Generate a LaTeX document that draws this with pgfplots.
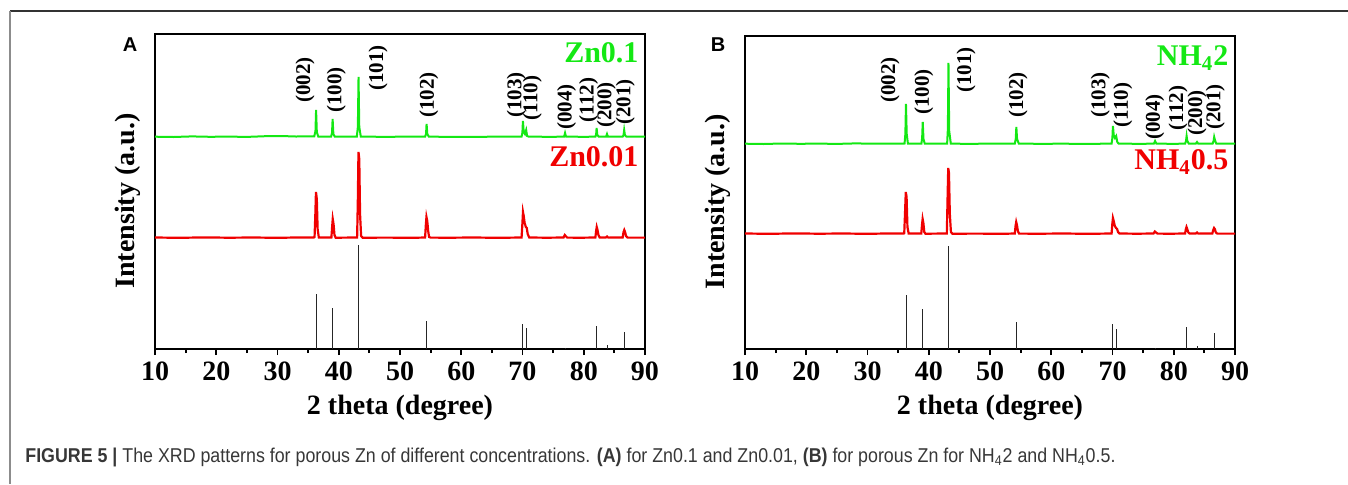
\documentclass[border=0pt]{standalone}
\usepackage{pgfplots}
\pgfplotsset{compat=1.18}
\usepackage{fontspec}
\setmainfont{Liberation Serif}
\newfontfamily\sansf{Liberation Sans}
\definecolor{xgreen}{RGB}{20,232,20}
\definecolor{xred}{RGB}{240,0,0}
\definecolor{capgray}{RGB}{55,55,55}
\pgfplotsset{xrdaxis/.style={
  scale only axis, width=245pt, anchor=south west,
  xmin=10, xmax=90, ymin=0,
  xtick={10,20,...,90}, minor x tick num=1, ytick=\empty,
  xtick pos=bottom, tick align=outside,
  major tick length=3pt, minor tick length=2pt,
  every tick/.style={black, line width=0.9pt},
  axis line style={line width=1.2pt},
  /pgf/number format/assume math mode=true,
  ticklabel style={font=\fontsize{14}{16}\selectfont\bfseries},
  xlabel={2 theta (degree)},
  ylabel={Intensity (a.u.)},
  label style={font=\fontsize{14}{16}\selectfont\bfseries},
  ylabel style={at={(axis description cs:-0.015,0.47)}, anchor=south},
  clip=false,
}}
\begin{document}
\begin{tikzpicture}[x=1pt,y=1pt]
\path[use as bounding box] (0,0) rectangle (674,242);
\draw[line width=0.7pt, black!80] (5,236.5) -- (674,236.5);
\draw[line width=0.7pt, black!45] (5,236.5) -- (5,0);
\node[font=\sansf\bfseries\fontsize{10}{12}\selectfont] at (65,219.5) {A};
\node[font=\sansf\bfseries\fontsize{10}{12}\selectfont] at (359,219.5) {B};
\node[anchor=west, inner sep=0, text=capgray, font=\sansf\fontsize{10}{11}\selectfont] at (12.5,13.5)
 {\resizebox{545pt}{\height}{\textbf{FIGURE 5 |} The XRD patterns for porous Zn of different concentrations. \textbf{(A)} for Zn0.1 and Zn0.01, \textbf{(B)} for porous Zn for NH\textsubscript{4}2 and NH\textsubscript{4}0.5.}};

\begin{axis}[xrdaxis, at={(77.5pt,67.5pt)}, height=157.5pt, ymax=315]
\addplot[xgreen, line width=1pt] coordinates {
(10,212.3)(13,212.0)(16,212.6)(19,212.2)(22,212.4)(25,212.1)(28,212.8)(31,212.9)(33,212.5)(35.9,212.6)
(36.0,212.6)(36.2,218)(36.3,239)(36.42,217)(36.65,212.5)
(38.75,212.4)(38.9,216)(39.0,230)(39.12,215)(39.35,212.3)
(42.95,212.3)(43.12,222)(43.23,272)(43.35,222)(43.6,212.4)
(47,212.2)(51,212.3)
(54.1,212.3)(54.25,215)(54.34,225)(54.46,215)(54.7,212.4)
(58,212.1)(62,212.2)(66,212.3)
(69.85,212.4)(69.98,216)(70.07,228)(70.2,217)(70.4,215)(70.6,219)(70.75,213)(71.0,212.4)
(74,212.2)
(76.8,212.3)(76.95,216)(77.1,212.5)
(79.5,212.2)
(81.9,212.3)(82.02,214.5)(82.1,221)(82.22,214)(82.45,212.3)
(83.65,212.4)(83.8,215)(83.95,212.3)
(86.35,212.3)(86.5,214)(86.6,219)(86.72,214)(86.95,212.4)
(90,212.3)};
\addplot[xred, line width=1.1pt] coordinates {
(10,111.5)(14,111.2)(18,111.6)(22,111.3)(26,111.5)(30,111.2)(34,111.6)(35.9,111.4)
(36.05,112)(36.18,135)(36.28,157)(36.42,150)(36.55,120)(36.75,111.5)
(38.8,111.5)(38.92,122)(39.02,130)(39.15,125)(39.3,114)(39.5,111.3)
(43.0,111.5)(43.12,150)(43.22,197)(43.35,190)(43.48,135)(43.65,113)(43.9,111.3)
(48,111.4)(52,111.2)
(54.1,111.5)(54.22,124)(54.32,132)(54.45,128)(54.6,118)(54.75,112)(55.0,111.4)
(58,111.3)(62,111.5)(66,111.2)
(69.85,111.5)(69.98,125)(70.08,137)(70.2,133)(70.35,126)(70.55,122)(70.7,121)(70.85,115)(71.1,111.5)
(74,111.3)
(76.7,111.5)(76.9,114)(77.05,113)(77.3,111.4)
(79.5,111.3)
(81.9,111.5)(82.02,118)(82.12,122)(82.25,119)(82.4,114)(82.6,111.4)
(83.6,111.5)(83.8,112.5)(84.0,111.4)
(86.35,111.5)(86.5,117)(86.62,119)(86.75,117)(86.9,113)(87.15,111.4)
(90,111.4)};
\addplot[ycomb, black!85, line width=0.5pt, mark=none] coordinates {
(36.3,55)(39.0,41)(43.23,104)(54.34,28)(70.07,25)(70.66,21)(77.0,1.5)(82.1,23)(83.8,4)(86.6,17)};
\begin{scope}[font=\fontsize{10.5}{11}\selectfont\bfseries]
\node[rotate=90] at (axis cs:34.5,269) {(002)};
\node[rotate=90] at (axis cs:39.6,259) {(100)};
\node[rotate=90] at (axis cs:46.4,281) {(101)};
\node[rotate=90] at (axis cs:54.7,254) {(102)};
\node[rotate=90] at (axis cs:69.0,254) {(103)};
\node[rotate=90] at (axis cs:71.6,251) {(110)};
\node[rotate=90] at (axis cs:77.2,242) {(004)};
\node[rotate=90] at (axis cs:80.8,249) {(112)};
\node[rotate=90] at (axis cs:83.7,244) {(200)};
\node[rotate=90] at (axis cs:86.8,247) {(201)};
\end{scope}
\node[anchor=east, inner sep=0, text=xgreen, font=\fontsize{15}{16}\selectfont\bfseries] at (axis cs:89.0,296) {Zn0.1};
\node[anchor=east, inner sep=0, text=xred, font=\fontsize{15}{16}\selectfont\bfseries] at (axis cs:89.0,192) {Zn0.01};
\end{axis}

\begin{axis}[xrdaxis, at={(372.5pt,67.5pt)}, height=156.5pt, ymax=313]
\addplot[xgreen, line width=1pt] coordinates {
(10,205.3)(13,205.0)(16,205.5)(19,205.2)(22,205.4)(25,205.1)(28,205.6)(31,205.3)(34,205.5)(36.0,205.4)
(36.05,205.5)(36.18,215)(36.28,245)(36.4,215)(36.6,205.4)
(38.8,205.3)(38.92,211)(39.02,227)(39.14,210)(39.35,205.3)
(43.0,205.4)(43.12,220)(43.22,286)(43.34,218)(43.6,205.3)
(47,205.2)(51,205.4)
(54.05,205.3)(54.2,210)(54.3,222)(54.42,210)(54.7,205.4)
(58,205.2)(62,205.3)(66,205.1)
(69.85,205.4)(69.98,211)(70.07,223)(70.2,214)(70.4,211)(70.6,213)(70.78,207)(71.0,205.4)
(74,205.2)
(76.75,205.3)(76.95,208)(77.15,205.4)
(79.5,205.2)
(81.85,205.3)(82.0,208)(82.1,213)(82.22,208)(82.45,205.4)
(83.6,205.3)(83.8,207)(84.0,205.3)
(86.35,205.4)(86.5,208)(86.6,212)(86.72,209)(86.95,205.3)
(90,205.3)};
\addplot[xred, line width=1.1pt] coordinates {
(10,115.5)(14,115.2)(18,115.6)(22,115.3)(26,115.5)(30,115.2)(34,115.6)(35.9,115.4)
(36.0,116)(36.12,135)(36.25,157)(36.38,152)(36.52,122)(36.72,115.5)
(38.78,115.5)(38.9,124)(39.0,130)(39.12,126)(39.27,117)(39.45,115.3)
(42.95,115.5)(43.07,150)(43.18,181)(43.3,176)(43.44,135)(43.62,117)(43.85,115.3)
(48,115.4)(52,115.2)
(54.05,115.5)(54.17,123)(54.28,127)(54.4,124)(54.55,118)(54.75,115.4)
(58,115.3)(62,115.5)(66,115.2)
(69.85,115.5)(69.97,125)(70.07,131)(70.2,128)(70.38,123)(70.58,121)(70.75,120)(70.9,117)(71.15,115.5)
(74,115.3)
(76.7,115.5)(76.92,117.5)(77.1,116.5)(77.35,115.4)
(79.5,115.3)
(81.85,115.5)(81.98,120)(82.08,122)(82.2,120)(82.38,116.5)(82.6,115.4)
(83.6,115.5)(83.8,116.5)(84.0,115.4)
(86.3,115.5)(86.45,119)(86.58,121)(86.7,120)(86.88,116.5)(87.1,115.4)
(90,115.4)};
\addplot[ycomb, black!85, line width=0.5pt, mark=none] coordinates {
(36.3,54)(39.0,40)(43.23,103)(54.34,27)(70.07,25)(70.66,20)(77.0,1.5)(82.1,22)(83.8,3)(86.6,16)};
\begin{scope}[font=\fontsize{10.5}{11}\selectfont\bfseries]
\node[rotate=90] at (axis cs:33.7,269) {(002)};
\node[rotate=90] at (axis cs:39.2,257) {(100)};
\node[rotate=90] at (axis cs:46.1,279) {(101)};
\node[rotate=90] at (axis cs:54.6,254) {(102)};
\node[rotate=90] at (axis cs:68.0,254) {(103)};
\node[rotate=90] at (axis cs:71.7,244) {(110)};
\node[rotate=90] at (axis cs:76.9,232) {(004)};
\node[rotate=90] at (axis cs:80.7,241) {(112)};
\node[rotate=90] at (axis cs:83.8,236) {(200)};
\node[rotate=90] at (axis cs:86.8,242) {(201)};
\end{scope}
\node[anchor=east, inner sep=0, text=xgreen, font=\fontsize{15}{16}\selectfont\bfseries] at (axis cs:89.0,291) {NH\textsubscript{4}2};
\node[anchor=east, inner sep=0, text=xred, font=\fontsize{15}{16}\selectfont\bfseries] at (axis cs:89.0,187) {NH\textsubscript{4}0.5};
\end{axis}
\end{tikzpicture}
\end{document}
